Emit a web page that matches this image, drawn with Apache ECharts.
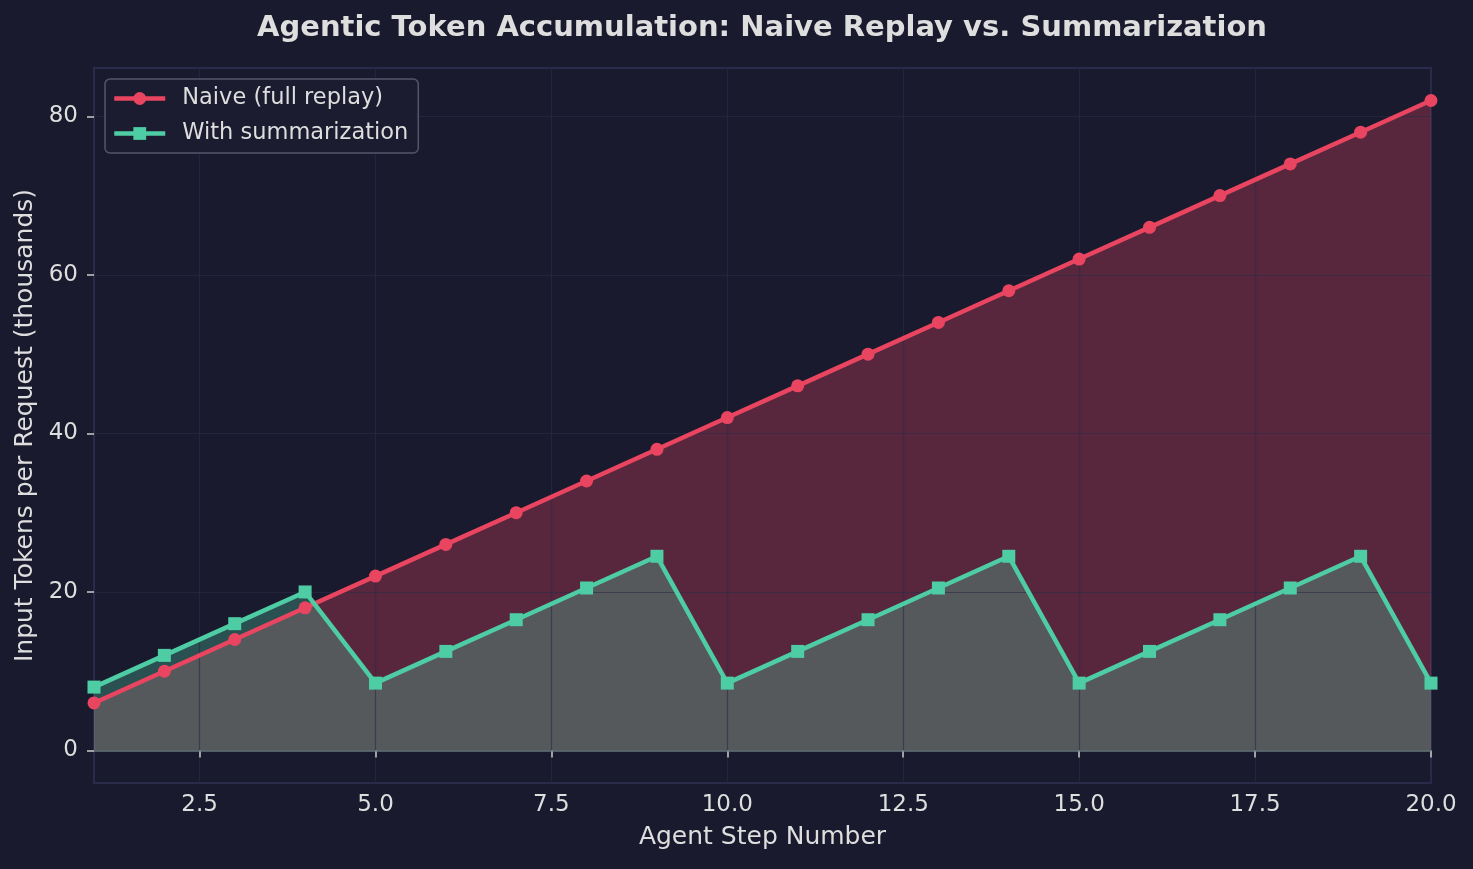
<!DOCTYPE html>
<html>
<head>
<meta charset="utf-8">
<title>Agentic Token Accumulation</title>
<script src="https://cdn.jsdelivr.net/npm/echarts@6.0.0/dist/echarts.min.js"></script>
<style>
  html, body { margin: 0; padding: 0; background: #1a1a2e; }
  #main { width: 1473px; height: 869px; }
</style>
</head>
<body>
<div id="main"></div>
<script>
// agent steps and input tokens per request (thousands)
var steps = [1, 2, 3, 4, 5, 6, 7, 8, 9, 10, 11, 12, 13, 14, 15, 16, 17, 18, 19, 20];
var naive = [6, 10, 14, 18, 22, 26, 30, 34, 38, 42, 46, 50, 54, 58, 62, 66, 70, 74, 78, 82];
var summarized = [8, 12, 16, 20, 8.5, 12.5, 16.5, 20.5, 24.5, 8.5, 12.5, 16.5, 20.5, 24.5, 8.5, 12.5, 16.5, 20.5, 24.5, 8.5];

var xTicks = [2.5, 5, 7.5, 10, 12.5, 15, 17.5, 20];
var yTicks = [0, 20, 40, 60, 80];

var RED = '#e94560';
var TEAL = '#4ecca3';
var TEXT = '#dedede';
var FONT = 'DejaVu Sans';

function pairs(ys) {
    return steps.map(function (s, i) { return [s, ys[i]]; });
}

var gridLine = { show: true, lineStyle: { color: 'rgba(44,44,72,0.6)', width: 1.2 } };

var option = {
    backgroundColor: '#1a1a2e',
    animation: false,
    title: {
        text: 'Agentic Token Accumulation: Naive Replay vs. Summarization',
        left: 762,
        top: 14,
        textAlign: 'center',
        padding: 0,
        textStyle: { color: TEXT, fontSize: 29, fontWeight: 'bold', fontFamily: FONT }
    },
    grid: {
        left: 94,
        right: 42,
        top: 68,
        bottom: 86,
        show: true,
        borderColor: '#2a2a4a',
        borderWidth: 2,
        backgroundColor: 'transparent'
    },
    legend: {
        data: ['Naive (full replay)', 'With summarization'],
        orient: 'vertical',
        left: 105,
        top: 79,
        padding: [8, 10, 8, 7],
        itemWidth: 51,
        itemHeight: 16,
        itemGap: 12,
        lineStyle: { width: 4.5 },
        backgroundColor: '#1c1c30',
        borderColor: '#55556a',
        borderWidth: 1.5,
        borderRadius: 5,
        textStyle: { color: TEXT, fontSize: 22.5, fontFamily: FONT, padding: [0, 0, 0, 12] }
    },
    xAxis: {
        type: 'value',
        min: 1,
        max: 20,
        z: 2,
        name: 'Agent Step Number',
        nameLocation: 'middle',
        nameGap: 42,
        nameTextStyle: { color: TEXT, fontSize: 25, fontFamily: FONT },
        axisLine: { show: false },
        axisTick: { show: true, length: 7, customValues: xTicks, lineStyle: { color: '#cccccc', width: 1.5 } },
        axisLabel: {
            color: TEXT, fontSize: 23, fontFamily: FONT, margin: 11,
            customValues: xTicks,
            formatter: function (v) { return v.toFixed(1); }
        },
        splitLine: gridLine
    },
    yAxis: {
        type: 'value',
        min: -4.1,
        max: 86.1,
        z: 2,
        name: 'Input Tokens per Request (thousands)',
        nameLocation: 'middle',
        nameGap: 56,
        nameTextStyle: { color: TEXT, fontSize: 25, fontFamily: FONT },
        axisLine: { show: false },
        axisTick: { show: true, length: 7, customValues: yTicks, lineStyle: { color: '#cccccc', width: 1.5 } },
        axisLabel: { color: TEXT, fontSize: 23, fontFamily: FONT, margin: 16, customValues: yTicks },
        splitLine: gridLine
    },
    series: [
        {
            name: 'naive-fill',
            type: 'line',
            z: 1,
            data: pairs(naive),
            showSymbol: false,
            silent: true,
            lineStyle: { opacity: 0 },
            areaStyle: { color: RED, opacity: 0.3 }
        },
        {
            name: 'summary-fill',
            type: 'line',
            z: 1,
            data: pairs(summarized),
            showSymbol: false,
            silent: true,
            lineStyle: { opacity: 0 },
            areaStyle: { color: TEAL, opacity: 0.3 },
            markLine: {
                silent: true,
                symbol: 'none',
                label: { show: false },
                lineStyle: { color: 'rgba(110,128,128,0.9)', width: 1.5, type: 'solid' },
                data: [{ yAxis: 0 }]
            }
        },
        {
            name: 'Naive (full replay)',
            type: 'line',
            z: 3,
            data: pairs(naive),
            symbol: 'circle',
            symbolSize: 13,
            itemStyle: { color: RED },
            lineStyle: { color: RED, width: 4.5 }
        },
        {
            name: 'With summarization',
            type: 'line',
            z: 3,
            data: pairs(summarized),
            symbol: 'rect',
            symbolSize: 13,
            itemStyle: { color: TEAL },
            lineStyle: { color: TEAL, width: 4.5 }
        }
    ]
};

var myChart = echarts.init(document.getElementById('main'));
myChart.setOption(option);
</script>
</body>
</html>
